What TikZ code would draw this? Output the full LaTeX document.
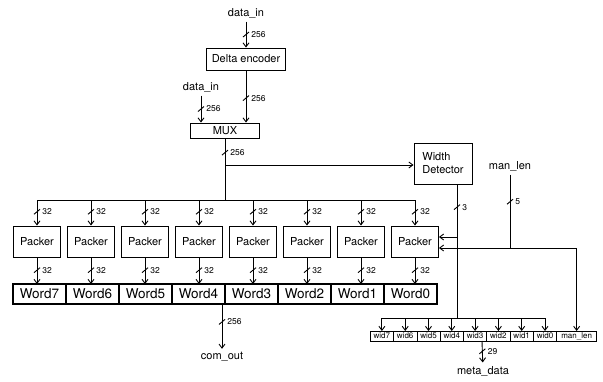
\documentclass[tikz,border=0pt]{standalone}
\usepackage{fontspec}
\setmainfont{TeX Gyre Heros}
\usetikzlibrary{arrows.meta, positioning}

\tikzset{
  pics/buswidth/.style={code={
    \draw[wire, -] (-3,2.5) -- (3,-2.5);
    \node[buslabel, anchor=west] at (4,0) {#1};
  }}
}

\begin{document}
\begin{tikzpicture}[
    x=1pt, y=-1pt,
    every node/.style={font=\fontsize{11}{13}\selectfont},
    block/.style={rectangle, draw=black, line width=0.9pt, minimum width=47pt,
                  minimum height=31pt, inner sep=2pt},
    word/.style={rectangle, draw=black, line width=1.6pt, minimum width=53pt,
                 minimum height=20pt, inner sep=0pt, outer sep=0pt,
                 font=\fontsize{13.5}{15}\selectfont},
    widbox/.style={rectangle, draw=black, line width=0.7pt, minimum width=23.3pt,
                   minimum height=10pt, inner sep=0pt, outer sep=0pt,
                   font=\fontsize{8}{9}\selectfont},
    buslabel/.style={font=\fontsize{8.5}{10}\selectfont, inner sep=1pt},
    wire/.style={line width=0.9pt},
    arrow/.style={wire, -{Straight Barb[length=4pt, width=6pt]}}
]
\useasboundingbox (0,0) rectangle (603,381);

% Input and encoder
\node (dataTop) at (246,13) {data\_in};
\node (delta) [block, minimum width=79pt, minimum height=22pt] at (246,59) {Delta encoder};
\node (dataSide) at (201,87) {data\_in};
\node (mux) [block, minimum width=69pt, minimum height=15pt] at (225,130.5) {MUX};
\node (width) [block, align=left, minimum width=58pt, minimum height=41pt] at (443,163.5) {Width\\Detector};
\node (manlen) at (510,166) {man\_len};

% Packers and words
\foreach \i in {0,...,7}
  \node (packer\i) [block] at ({415-54*\i},241.5) {Packer};
\foreach \i in {0,...,7}
  \node (word\i) [word] at ({410.5-53*\i},294) {Word\i};

% Meta data fields
\node (wid0) [widbox] at (545,336) {wid0};
\foreach \i [remember=\i as \prev (initially 0)] in {1,...,7}
  \node (wid\i) [widbox, left=0pt of wid\prev] {wid\i};
\node (mlbox) [widbox, minimum width=40pt, right=0pt of wid0] {man\_len};

\node (comout) at (222,357) {com\_out};
\node (metadata) at (483,371) {meta\_data};

% Junctions
\coordinate (muxSplit) at (225,165);
\coordinate (packerBus) at (225,200);
\coordinate (widthTap) at (457,237);
\coordinate (widBus) at (457,318);
\coordinate (lenTap) at (510,248);
\coordinate (comTap) at (222,304);
\coordinate (metaTap) at (482,341);

% Arrows
\draw [arrow] (dataTop) -- pic[pos=0.5]{buswidth=256} (delta);
\draw [arrow] (delta) -- pic[pos=0.53]{buswidth=256} (delta.south |- mux.north);
\draw [arrow] (dataSide) -- pic[pos=0.5]{buswidth=256} (dataSide.south |- mux.north);
\draw [wire] (mux) -- pic[pos=0.23]{buswidth=256} (packerBus);
\draw [arrow] (muxSplit) -- (muxSplit -| width.west);
\draw [wire] (packer7.north |- packerBus) -- (packer0.north |- packerBus);
\foreach \i in {0,...,7} {
  \draw [arrow] (packer\i.north |- packerBus) -- pic[pos=0.46]{buswidth=32} (packer\i);
  \draw [arrow] (packer\i) -- pic[pos=0.48]{buswidth=32} (packer\i.south |- word\i.north);
}

\draw [wire] (width.south -| widthTap) -- pic[pos=0.17]{buswidth=3} (widBus);
\draw [arrow] (widthTap) -- (widthTap -| packer0.east);
\draw [wire] (wid7.north |- widBus) -- (wid0.north |- widBus);
\foreach \i in {0,...,7}
  \draw [arrow] (wid\i.north |- widBus) -- (wid\i);

\draw [wire] (manlen) -- pic[pos=0.37]{buswidth=5} (lenTap);
\draw [arrow] (lenTap) -- (lenTap -| packer0.east);
\draw [arrow] (lenTap) -| (mlbox);

\draw [arrow] (comTap) -- pic[pos=0.4]{buswidth=256} (comout);
\draw [arrow] (metaTap) -- pic[pos=0.48]{buswidth=29} (metadata);

\end{tikzpicture}
\end{document}
